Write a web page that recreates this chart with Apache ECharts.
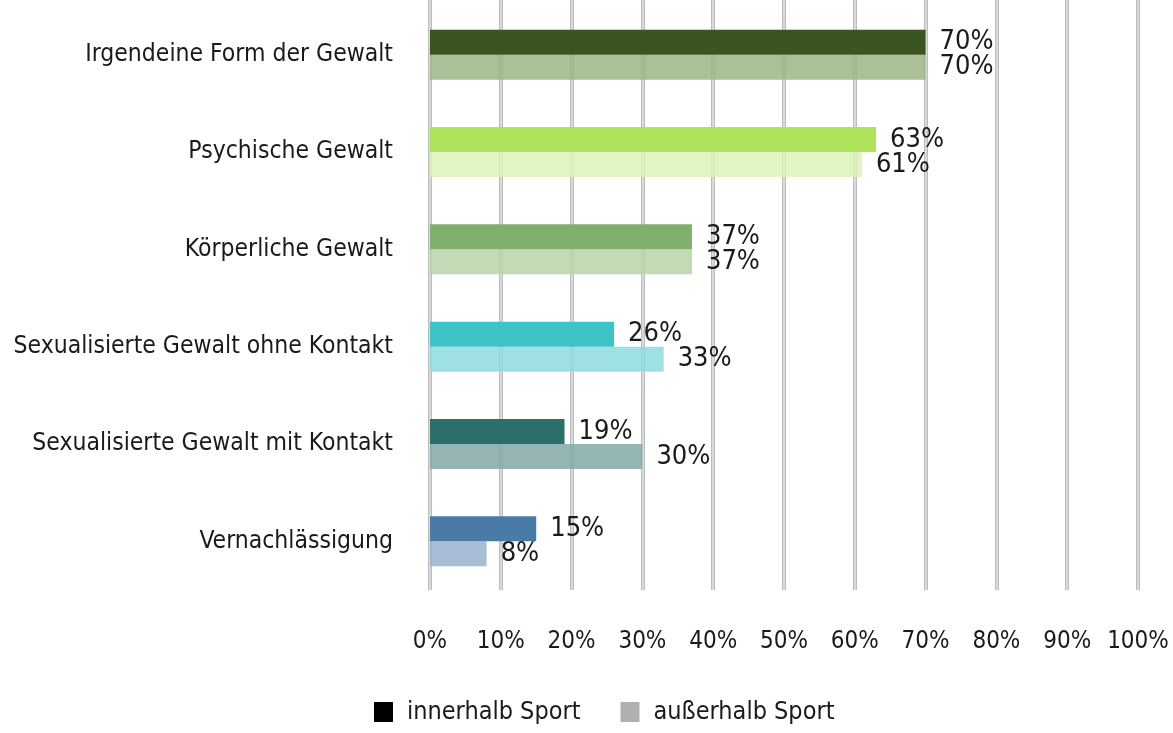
<!DOCTYPE html>
<html>
<head>
<meta charset="utf-8">
<script src="https://cdn.jsdelivr.net/npm/echarts@6/dist/echarts.min.js"></script>
<style>
html,body{margin:0;padding:0;background:#fff;}
#chart{width:1173px;height:733px;}
</style>
</head>
<body>
<div id="chart"></div>
<script>
const categories = ['Irgendeine Form der Gewalt','Psychische Gewalt','Körperliche Gewalt','Sexualisierte Gewalt ohne Kontakt','Sexualisierte Gewalt mit Kontakt','Vernachlässigung'];
const seriesNames = ['innerhalb Sport','außerhalb Sport'];
const innerValues = [70,63,37,26,19,15];
const outerValues = [70,61,37,33,30,8];
const xTicks = [0,10,20,30,40,50,60,70,80,90,100];

const innerColors = ['#3a5522','#b0e35c','#80b06e','#3ec4c6','#2b6f6b','#4a7ba7'];
const outerColors = ['#a9c098','#e0f4c4','#c2dab6','#9fe0e2','#95b6b4','#a8bed6'];

const FONT = "'Liberation Sans Narrow','DejaVu Sans Condensed','Noto Sans',sans-serif";
const TXT = '#1a1a1a';

function blendAlpha(hex, a){
  const r=parseInt(hex.slice(1,3),16), g=parseInt(hex.slice(3,5),16), b=parseInt(hex.slice(5,7),16);
  const f=v=>Math.max(0,Math.min(255,Math.round((v-(1-a)*255)/a)));
  return 'rgba('+f(r)+','+f(g)+','+f(b)+','+a+')';
}

const chart = echarts.init(document.getElementById('chart'), null, {renderer:'canvas'});

function mkData(vals, cols, alpha){
  return vals.map((v,i)=>({
    value:v,
    itemStyle:{color: alpha ? blendAlpha(cols[i], alpha) : cols[i]}
  }));
}

const labelStyle = {show:true, position:'right', distance:14, formatter:'{c}%', fontFamily:FONT, fontSize:27, color:TXT};

const option = {
  animation:false,
  backgroundColor:'#fff',
  grid:[
    {left:430, right:1173-1138, top:6, height:584, containLabel:false, outerBoundsMode:'none'},
    {left:430, right:1173-1138, top:0, height:590, containLabel:false, outerBoundsMode:'none'}
  ],
  legend:{
    top:692, left:369,
    itemWidth:19, itemHeight:20, itemGap:40,
    icon:'rect',
    textStyle:{fontFamily:FONT, fontSize:25, color:TXT, lineHeight:30, padding:[0,0,0,9]},
    data:seriesNames
  },
  xAxis:[
    {gridIndex:0, type:'value', min:0, max:100, interval:10,
     axisLine:{show:false}, axisTick:{show:false}, splitLine:{show:false},
     axisLabel:{show:false}},
    {gridIndex:1, type:'value', min:0, max:100, interval:10,
     axisLine:{show:false}, axisTick:{show:false},
     splitLine:{show:true, lineStyle:{color:'#bcbcbc', width:4}},
     axisLabel:{show:true, formatter:v=>xTicks.indexOf(v)>=0 ? v+'%' : '', margin:40, fontFamily:FONT, fontSize:24, color:TXT}},
    {gridIndex:1, type:'value', min:0, max:100, interval:10, position:'top',
     axisLine:{show:false}, axisTick:{show:false}, axisLabel:{show:false},
     splitLine:{show:true, lineStyle:{color:'#dadada', width:2}}}
  ],
  yAxis:[
    {gridIndex:0, type:'category', data:categories, inverse:true,
     axisLine:{show:false}, axisTick:{show:false},
     axisLabel:{margin:37, fontFamily:FONT, fontSize:24.5, color:TXT}},
    {gridIndex:1, type:'value', min:0, max:1, show:false}
  ],
  series:[
    {name:seriesNames[0], type:'bar', xAxisIndex:0, yAxisIndex:0, barWidth:25, barGap:'0%',
     itemStyle:{color:'#000'}, data:mkData(innerValues, innerColors, 0),
     label:labelStyle, z:3},
    {name:seriesNames[1], type:'bar', xAxisIndex:0, yAxisIndex:0, barWidth:25, barGap:'0%',
     itemStyle:{color:'#b0b0b0'}, data:mkData(outerValues, outerColors, 0.85),
     label:labelStyle, z:2},
    {type:'scatter', xAxisIndex:1, yAxisIndex:1, data:[], silent:true}
  ]
};
chart.setOption(option);
</script>
</body>
</html>
